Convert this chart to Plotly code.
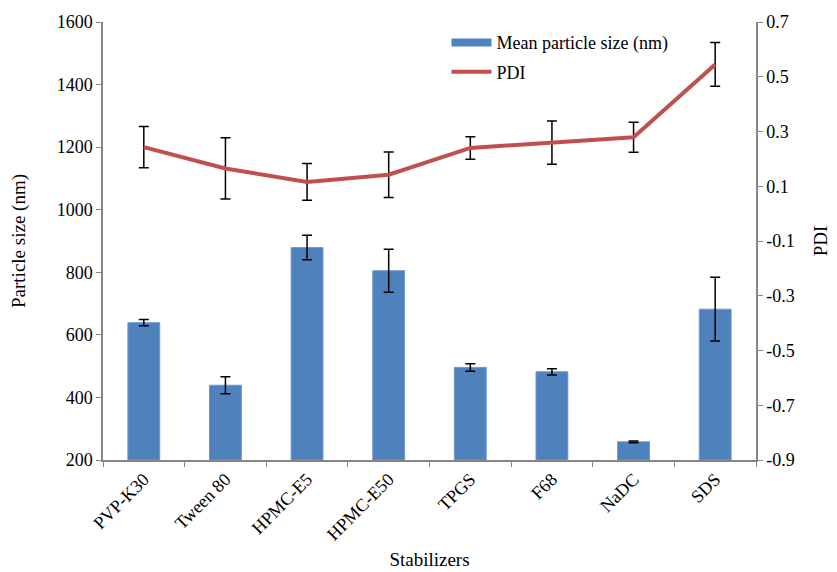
import plotly.graph_objects as go

categories = ["PVP-K30", "Tween 80", "HPMC-E5", "HPMC-E50", "TPGS", "F68", "NaDC", "SDS"]
size_nm = [639, 439, 879, 805, 496, 482, 258, 682]
size_err = [10, 27, 39, 69, 12, 10, 3, 102]
pdi = [0.243, 0.165, 0.116, 0.142, 0.240, 0.259, 0.279, 0.545]
pdi_err = [0.075, 0.112, 0.067, 0.083, 0.041, 0.079, 0.055, 0.080]

left_ticks = [200, 400, 600, 800, 1000, 1200, 1400, 1600]
right_ticks = [-0.9, -0.7, -0.5, -0.3, -0.1, 0.1, 0.3, 0.5, 0.7]

font_family = "Liberation Serif, Times New Roman, serif"
axis_gray = "#868686"
bar_color = "#4F81BD"
line_color = "#C0504D"

fig = go.Figure()
fig.add_trace(go.Bar(
    x=categories, y=[v - 200 for v in size_nm], base=200,
    name="Mean particle size (nm)", showlegend=False,
    marker=dict(color=bar_color, line=dict(color="#6C98CC", width=1)),
    width=0.39,
    error_y=dict(type="data", array=size_err, color="black", thickness=1.5, width=5),
    yaxis="y",
))
# legend entry drawn as a wide bar swatch
fig.add_trace(go.Scatter(
    x=[None], y=[None], mode="lines", name="Mean particle size (nm)",
    line=dict(color=bar_color, width=8), legendgroup="a", yaxis="y",
))
fig.add_trace(go.Scatter(
    x=categories, y=pdi, name="PDI", mode="lines", legendgroup="b",
    line=dict(color=line_color, width=4),
    error_y=dict(type="data", array=pdi_err, color="black", thickness=1.5, width=5),
    yaxis="y2",
))

# the page body adds an 8px margin, so the figure is 8px smaller each way
fig.update_layout(
    width=829, height=564,
    margin=dict(l=95, r=81, t=14, b=112),
    paper_bgcolor="white", plot_bgcolor="white",
    font=dict(family=font_family, size=18, color="black"),
    showlegend=True,
    legend=dict(x=0.526, y=0.995, xanchor="left", yanchor="top",
                bgcolor="rgba(0,0,0,0)", font=dict(size=18),
                tracegroupgap=3, itemwidth=40),
    xaxis=dict(
        type="category", showline=True, linecolor=axis_gray, linewidth=1.5,
        ticks="outside", tickson="boundaries", ticklen=5, tickcolor=axis_gray,
        tickangle=-45, tickfont=dict(size=18), showgrid=False, automargin=False,
        title=dict(text="Stabilizers", font=dict(size=19), standoff=9),
    ),
    yaxis=dict(
        range=[200, 1600], tickvals=left_ticks, showline=True, linecolor=axis_gray,
        linewidth=1.5, ticks="outside", ticklen=5, tickcolor=axis_gray,
        showgrid=False, zeroline=False, tickfont=dict(size=18), automargin=False,
        title=dict(text="Particle size (nm)", font=dict(size=19), standoff=28),
    ),
    yaxis2=dict(
        range=[-0.9, 0.7], tickvals=right_ticks, ticktext=[f"{t:.1f}" for t in right_ticks],
        overlaying="y", side="right", showline=True, linecolor=axis_gray,
        linewidth=1.5, ticks="outside", ticklen=5, tickcolor=axis_gray,
        showgrid=False, zeroline=False, tickfont=dict(size=18), automargin=False,
        title=dict(text="PDI", font=dict(size=19), standoff=20),
    ),
)

fig.write_html("out.html")
